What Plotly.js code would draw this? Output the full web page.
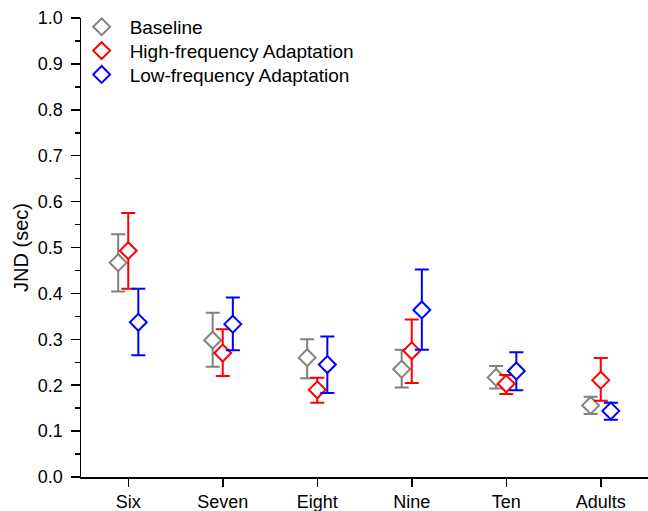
<!DOCTYPE html>
<html>
<head>
<meta charset="utf-8">
<script src="https://cdn.plot.ly/plotly-3.0.1.min.js"></script>
<style>html,body{margin:0;padding:0;background:#fff;}#chart{width:648px;height:511px;}</style>
</head>
<body>
<div id="chart"></div>
<script>
const categories = ["Six", "Seven", "Eight", "Nine", "Ten", "Adults"];

const seriesNames = ["Baseline", "High-frequency Adaptation", "Low-frequency Adaptation"];

const baselineMean  = [0.467, 0.298, 0.260, 0.235, 0.217, 0.156];
const baselineUpper = [0.529, 0.358, 0.300, 0.277, 0.242, 0.175];
const baselineLower = [0.404, 0.240, 0.215, 0.195, 0.193, 0.137];

const highMean  = [0.493, 0.270, 0.190, 0.275, 0.203, 0.211];
const highUpper = [0.575, 0.322, 0.216, 0.343, 0.222, 0.259];
const highLower = [0.410, 0.220, 0.162, 0.205, 0.181, 0.166];

const lowMean  = [0.337, 0.333, 0.245, 0.364, 0.231, 0.144];
const lowUpper = [0.410, 0.391, 0.306, 0.452, 0.272, 0.162];
const lowLower = [0.265, 0.276, 0.183, 0.277, 0.189, 0.125];

const colors = ["#808080", "#ff0000", "#0000ff"];

function mkTrace(name, mean, upper, lower, color, legendId) {
  return {
    type: "scatter",
    mode: "markers",
    name: name,
    legend: legendId,
    x: categories,
    y: mean,
    marker: {symbol: "diamond", size: 13, color: "#ffffff", line: {color: color, width: 2}},
    error_y: {
      type: "data", symmetric: false,
      array: upper.map((u, i) => u - mean[i]),
      arrayminus: lower.map((l, i) => mean[i] - l),
      color: color, thickness: 2, width: 7
    }
  };
}

const data = [
  mkTrace(seriesNames[0], baselineMean, baselineUpper, baselineLower, colors[0], "legend"),
  mkTrace(seriesNames[1], highMean, highUpper, highLower, colors[1], "legend2"),
  mkTrace(seriesNames[2], lowMean, lowUpper, lowLower, colors[2], "legend3")
];

function legendAt(yv) {
  return {x: -0.013, y: yv, xanchor: "left", yanchor: "top", bgcolor: "rgba(0,0,0,0)",
          font: {size: 19}, itemwidth: 46};
}

const layout = {
  width: 648, height: 511,
  margin: {l: 81, r: 0, t: 18, b: 34},
  paper_bgcolor: "#ffffff", plot_bgcolor: "#ffffff",
  font: {family: "Arial, 'Liberation Sans', sans-serif", size: 18, color: "#000"},
  scattermode: "group",
  scattergap: 0.68,
  showlegend: true,
  legend: legendAt(1.022),
  legend2: legendAt(0.970),
  legend3: legendAt(0.918),
  xaxis: {
    type: "category",
    range: [-0.5, 5.5],
    showline: true, linecolor: "#000", linewidth: 1.5,
    ticks: "outside", ticklen: 8, tickwidth: 1.5, tickcolor: "#000",
    showgrid: false, zeroline: false,
    tickfont: {size: 18}
  },
  yaxis: {
    range: [0, 1.0],
    dtick: 0.1, tick0: 0, tickformat: ".1f",
    showline: true, linecolor: "#000", linewidth: 1.5,
    ticks: "outside", ticklen: 9, tickwidth: 1.5, tickcolor: "#000",
    ticklabelstandoff: 4,
    minor: {dtick: 0.05, ticks: "outside", ticklen: 5, tickwidth: 1.5, tickcolor: "#000", showgrid: false},
    showgrid: false, zeroline: false,
    tickfont: {size: 18},
    title: {text: "JND (sec)", font: {size: 20}, standoff: 4}
  }
};

Plotly.newPlot("chart", data, layout, {displayModeBar: false, staticPlot: true});
</script>
</body>
</html>
